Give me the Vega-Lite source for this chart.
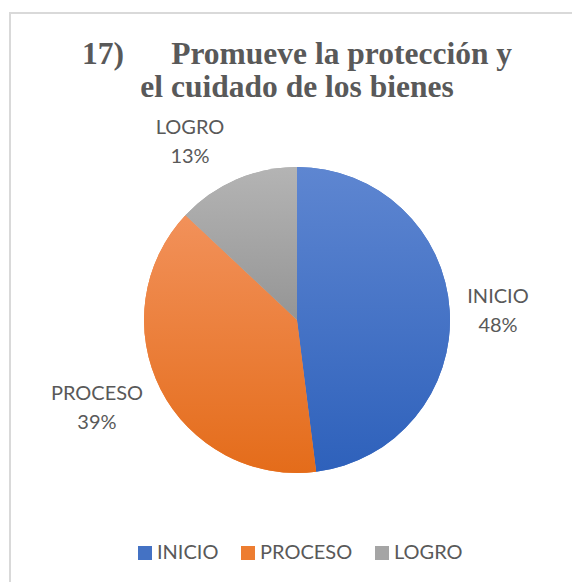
{
  "$schema": "https://vega.github.io/schema/vega-lite/v6.json",
  "autosize": {"type": "none"},
  "width": 574,
  "height": 614,
  "padding": {"left": 10, "top": 13, "right": 0, "bottom": 0},
  "background": "white",
  "config": {
    "view": {"stroke": null},
    "text": {"font": "Lato"}
  },
  "title": {
    "text": ["17)\u00a0\u00a0\u00a0\u00a0\u00a0\u00a0Promueve la protección y", "el cuidado de los bienes"],
    "font": "Liberation Serif",
    "fontSize": 31.5,
    "fontWeight": "bold",
    "color": "#595959",
    "lineHeight": 33,
    "anchor": "middle",
    "frame": "group",
    "baseline": "top",
    "offset": 0,
    "dy": 91
  },
  "data": {
    "values": [
      {"cat": "INICIO", "v": 0.48},
      {"cat": "PROCESO", "v": 0.39},
      {"cat": "LOGRO", "v": 0.13}
    ]
  },
  "transform": [
    {"stack": "v", "groupby": [], "sort": [{"field": "v", "order": "descending"}], "as": ["v0", "v1"]}
  ],
  "layer": [
    {
      "data": {"values": [{"frame": 1}]},
      "transform": [],
      "mark": {"type": "rect", "fill": null, "stroke": "#D9D9D9", "strokeWidth": 2},
      "encoding": {
        "x": {"value": 0},
        "x2": {"value": "width"},
        "y": {"value": 0},
        "y2": {"value": "height"}
      }
    },
    {
      "mark": {"type": "arc", "outerRadius": 153},
      "encoding": {
        "theta": {"field": "v0", "type": "quantitative"},
        "theta2": {"field": "v1"},
        "color": {
          "field": "cat",
          "type": "nominal",
          "sort": ["INICIO", "PROCESO", "LOGRO"],
          "scale": {
            "domain": ["INICIO", "PROCESO", "LOGRO"],
            "range": ["#4472C4", "#ED7D31", "#A5A5A5"]
          },
          "legend": {
            "title": null,
            "orient": "none",
            "direction": "horizontal",
            "legendX": 125,
            "legendY": 530,
            "symbolType": "square",
            "symbolSize": 196,
            "symbolStrokeWidth": 0,
            "labelFont": "Lato",
            "labelFontSize": 20,
            "labelColor": "#595959",
            "labelOffset": 2,
            "columnPadding": 19,
            "padding": 0
          }
        }
      }
    },
    {
      "transform": [{"filter": "datum.cat == 'INICIO'"}],
      "mark": {"type": "arc", "outerRadius": 153, "fill": {"gradient": "linear", "x1": 0, "y1": 0, "x2": 0, "y2": 1, "stops": [{"offset": 0, "color": "#5E86D1"}, {"offset": 1, "color": "#2E61BB"}]}},
      "encoding": {
        "theta": {"field": "v0", "type": "quantitative"},
        "theta2": {"field": "v1"}
      }
    },
    {
      "transform": [{"filter": "datum.cat == 'PROCESO'"}],
      "mark": {"type": "arc", "outerRadius": 153, "fill": {"gradient": "linear", "x1": 0, "y1": 0, "x2": 0, "y2": 1, "stops": [{"offset": 0, "color": "#F2915A"}, {"offset": 1, "color": "#E46C1A"}]}},
      "encoding": {
        "theta": {"field": "v0", "type": "quantitative"},
        "theta2": {"field": "v1"}
      }
    },
    {
      "transform": [{"filter": "datum.cat == 'LOGRO'"}],
      "mark": {"type": "arc", "outerRadius": 153, "fill": {"gradient": "linear", "x1": 0, "y1": 0, "x2": 0, "y2": 1, "stops": [{"offset": 0, "color": "#B4B4B4"}, {"offset": 1, "color": "#959595"}]}},
      "encoding": {
        "theta": {"field": "v0", "type": "quantitative"},
        "theta2": {"field": "v1"}
      }
    },
    {
      "mark": {"type": "text", "radius": 208, "fontSize": 20, "font": "Lato", "color": "#595959", "baseline": "middle", "align": "center",
        "dx": {"expr": "datum.cat == 'INICIO' ? -6.6 : datum.cat == 'PROCESO' ? -14.7 : -24.4"},
        "dy": {"expr": "datum.cat == 'INICIO' ? -9.5 : datum.cat == 'PROCESO' ? -20.5 : -1.5"}},
      "encoding": {
        "theta": {"field": "v", "type": "quantitative", "stack": true},
        "order": {"field": "v", "type": "quantitative", "sort": "descending"},
        "detail": {"field": "cat", "type": "nominal"},
        "text": {"field": "cat", "type": "nominal"}
      }
    },
    {
      "mark": {"type": "text", "radius": 208, "fontSize": 20, "font": "Lato", "color": "#595959", "baseline": "middle", "align": "center",
        "dx": {"expr": "datum.cat == 'INICIO' ? -6.6 : datum.cat == 'PROCESO' ? -14.7 : -24.4"},
        "dy": {"expr": "datum.cat == 'INICIO' ? 19.5 : datum.cat == 'PROCESO' ? 8.5 : 27.5"}},
      "encoding": {
        "theta": {"field": "v", "type": "quantitative", "stack": true},
        "order": {"field": "v", "type": "quantitative", "sort": "descending"},
        "detail": {"field": "cat", "type": "nominal"},
        "text": {"field": "v", "type": "quantitative", "format": ".0%"}
      }
    }
  ]
}
